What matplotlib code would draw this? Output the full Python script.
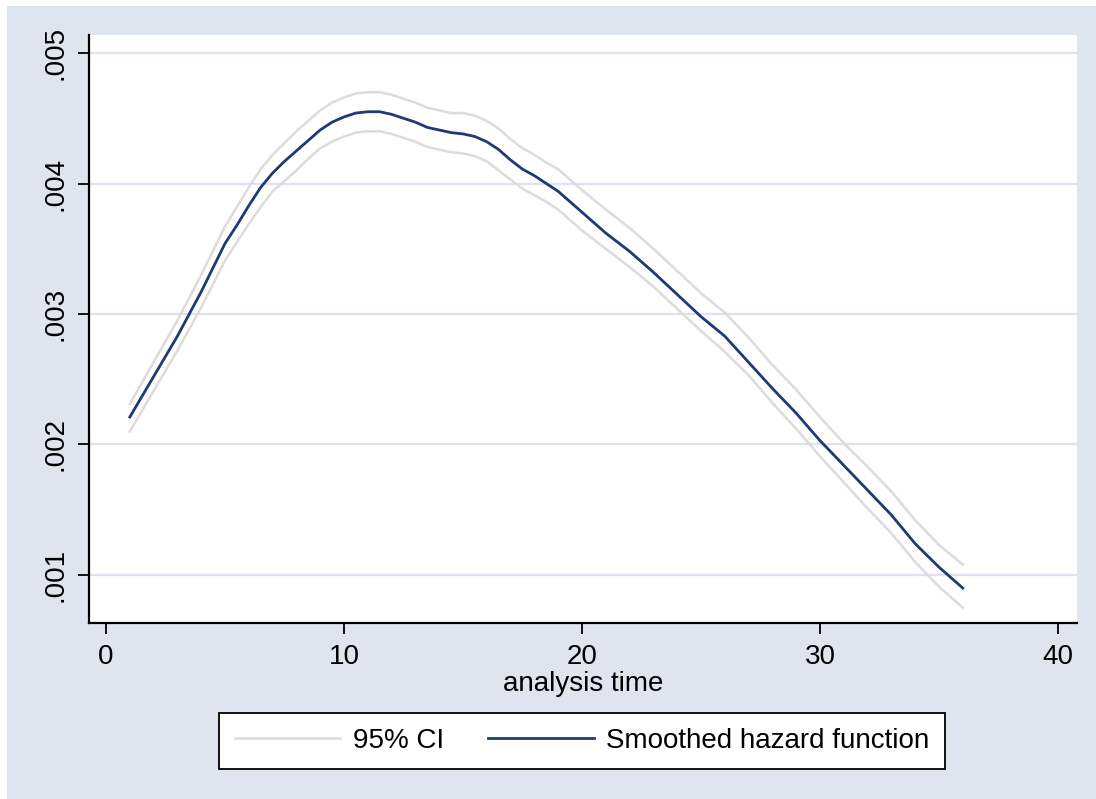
import numpy as np
import matplotlib.pyplot as plt
from matplotlib.patches import Rectangle

# ---------------------------
# Data
# ---------------------------
t = [1, 2, 3, 4, 5, 5.5, 6, 6.5, 7, 7.5, 8, 8.5, 9, 9.5, 10, 10.5, 11, 11.5,
     12, 12.5, 13, 13.5, 14, 14.5, 15, 15.5, 16, 16.5, 17, 17.5, 18, 18.5,
     19, 20, 21, 22, 23, 24, 25, 26, 27, 28, 29, 30, 31, 32, 33, 34, 35, 36]

hazard = [0.00221, 0.00252, 0.00283, 0.00317, 0.00354, 0.00368, 0.00383, 0.00397,
          0.00408, 0.00417, 0.00425, 0.00433, 0.00441, 0.00447, 0.00451, 0.00454,
          0.00455, 0.00455, 0.00453, 0.00450, 0.00447, 0.00443, 0.00441, 0.00439,
          0.00438, 0.00436, 0.00432, 0.00426, 0.00418, 0.00411, 0.00406, 0.00400,
          0.00394, 0.00378, 0.00362, 0.00348, 0.00332, 0.00315, 0.00298, 0.00283,
          0.00263, 0.00243, 0.00224, 0.00203, 0.00184, 0.00165, 0.00146, 0.00124,
          0.00106, 0.00090]

ci_upper = [0.00231, 0.00263, 0.00295, 0.00330, 0.00367, 0.00382, 0.00397, 0.00411,
            0.00422, 0.00431, 0.00440, 0.00448, 0.00456, 0.00462, 0.00466, 0.00469,
            0.00470, 0.00470, 0.00468, 0.00465, 0.00462, 0.00458, 0.00456, 0.00454,
            0.00454, 0.00452, 0.00448, 0.00442, 0.00434, 0.00427, 0.00422, 0.00416,
            0.00411, 0.00395, 0.00380, 0.00366, 0.00350, 0.00333, 0.00316, 0.00301,
            0.00282, 0.00261, 0.00242, 0.00221, 0.00201, 0.00183, 0.00164, 0.00142,
            0.00123, 0.00108]

ci_lower = [0.00210, 0.00241, 0.00272, 0.00305, 0.00341, 0.00355, 0.00369, 0.00382,
            0.00394, 0.00402, 0.00410, 0.00419, 0.00427, 0.00432, 0.00436, 0.00439,
            0.00440, 0.00440, 0.00438, 0.00435, 0.00432, 0.00428, 0.00426, 0.00424,
            0.00423, 0.00421, 0.00417, 0.00410, 0.00403, 0.00396, 0.00391, 0.00386,
            0.00380, 0.00364, 0.00350, 0.00336, 0.00321, 0.00304, 0.00287, 0.00271,
            0.00253, 0.00232, 0.00212, 0.00191, 0.00171, 0.00151, 0.00132, 0.00110,
            0.00091, 0.00075]

x_ticks = [0, 10, 20, 30, 40]
y_ticks = [0.001, 0.002, 0.003, 0.004, 0.005]
y_tick_labels = [".001", ".002", ".003", ".004", ".005"]

# ---------------------------
# Style
# ---------------------------
BG = "#DFE5EF"
GRID = "#DDE3EE"
NAVY = "#1F3A73"
CI_GRAY = "#DCDCDC"

plt.rcParams["font.family"] = ["Liberation Sans", "DejaVu Sans"]

fig = plt.figure(figsize=(10.96, 7.99), dpi=100, facecolor="white")
fig.patches.append(Rectangle((7 / 1096, 0), 1 - 7 / 1096, 1 - 6 / 799,
                             transform=fig.transFigure, facecolor=BG,
                             edgecolor="none", zorder=-10))

ax = fig.add_axes([89 / 1096, 1 - 623 / 799, (1077 - 89) / 1096, (623 - 35) / 799])
ax.set_facecolor("white")

l_ci, = ax.plot(t, ci_upper, color=CI_GRAY, lw=1.8, label="95% CI")
ax.plot(t, ci_lower, color=CI_GRAY, lw=1.8)
l_h, = ax.plot(t, hazard, color=NAVY, lw=2.0, label="Smoothed hazard function")

ax.set_xlim(-0.714, 40.8)
ax.set_ylim(0.000632, 0.005138)
ax.set_xticks(x_ticks)
ax.set_yticks(y_ticks)
ax.set_yticklabels(y_tick_labels)

ax.grid(axis="y", color=GRID, lw=1.6)
ax.set_axisbelow(True)

for side in ["top", "right"]:
    ax.spines[side].set_visible(False)
for side in ["left", "bottom"]:
    ax.spines[side].set_linewidth(1.6)
    ax.spines[side].set_color("black")

ax.tick_params(axis="both", length=8, width=1.3, labelsize=20, pad=7, color="black")
ax.tick_params(axis="y", labelrotation=90)
for lbl in ax.get_yticklabels():
    lbl.set_va("center")

ax.set_xlabel("analysis time", fontsize=20, labelpad=1)

leg = fig.legend([l_ci, l_h], ["95% CI", "Smoothed hazard function"],
                 loc="center", bbox_to_anchor=(582 / 1096, 1 - 741 / 799),
                 ncol=2, fontsize=20, frameon=True, fancybox=False,
                 handlelength=3.8, handletextpad=0.45, columnspacing=1.6,
                 borderpad=0.55, borderaxespad=0)
leg.get_frame().set_edgecolor("black")
leg.get_frame().set_linewidth(1.3)
leg.get_frame().set_facecolor("white")
leg.get_frame().set_alpha(1)

plt.savefig("out.png", dpi=100, facecolor=fig.get_facecolor())
